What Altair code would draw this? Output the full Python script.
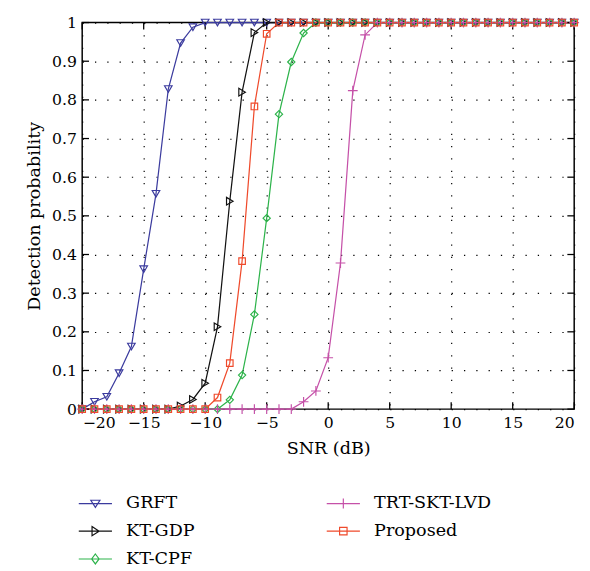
import altair as alt
import pandas as pd

snr = list(range(-20, 21))
names = ["GRFT", "KT-GDP", "KT-CPF", "TRT-SKT-LVD", "Proposed"]
grft = [0, 0.019, 0.032, 0.093, 0.162, 0.362, 0.557, 0.828, 0.947, 0.988] + [1] * 31
kt_gdp = [0] * 8 + [0.008, 0.025, 0.067, 0.213, 0.538, 0.82, 0.974] + [1] * 26
kt_cpf = [0] * 12 + [0.024, 0.088, 0.245, 0.494, 0.763, 0.898, 0.973] + [1] * 22
trt = [0] * 18 + [0.019, 0.047, 0.133, 0.378, 0.824, 0.968] + [1] * 17
proposed = [0] * 11 + [0.03, 0.119, 0.383, 0.783, 0.971] + [1] * 25
x_ticks = [-20, -15, -10, -5, 0, 5, 10, 15, 20]
y_ticks = [0, 0.1, 0.2, 0.3, 0.4, 0.5, 0.6, 0.7, 0.8, 0.9, 1]

values = [grft, kt_gdp, kt_cpf, trt, proposed]
colors = {"GRFT": "#3b3b9e", "KT-GDP": "#111111", "KT-CPF": "#2cb34a",
          "TRT-SKT-LVD": "#c550a8", "Proposed": "#ef4a2b"}
shapes = {"GRFT": "triangle-down", "KT-GDP": "triangle-right", "KT-CPF": "diamond",
          "TRT-SKT-LVD": "M-1,0H1M0,-1V1", "Proposed": "square"}
sizes = {"GRFT": 60, "KT-GDP": 60, "KT-CPF": 55, "TRT-SKT-LVD": 100, "Proposed": 45}
legend_paths = {
    "GRFT": "M-2,0H2M-0.55,-0.4H0.55L0,0.45Z",
    "KT-GDP": "M-2,0H2M-0.4,-0.55L0.45,0L-0.4,0.55Z",
    "KT-CPF": "M-2,0H2M0,-0.6L0.45,0L0,0.6L-0.45,0Z",
    "TRT-SKT-LVD": "M-2,0H2M0,-0.6V0.6",
    "Proposed": "M-2,0H2M-0.45,-0.45H0.45V0.45H-0.45Z",
}
legend_order = names

rows = []
for n, vals in zip(names, values):
    for xv, yv in zip(snr, vals):
        rows.append({"series": n, "x": xv, "y": yv})
df = pd.DataFrame(rows)

W, H = 504, 396
FONT = "DejaVu Serif"

xs = alt.Scale(domain=[-20, 20], nice=False, zero=False)
ys = alt.Scale(domain=[0, 1], nice=False)
x_axis = alt.Axis(
    title="SNR (dB)", values=x_ticks, grid=True, gridColor="#000", gridDash=[1.3, 11.3],
    gridWidth=1.2, ticks=False, domain=False, labelFont=FONT, labelFontSize=16,
    labelColor="#000", labelPadding=6, titleFont=FONT, titleFontSize=18,
    titleFontWeight="normal", titleColor="#000", titlePadding=9)
y_axis = alt.Axis(
    title="Detection probability", values=y_ticks, format=".1~f", grid=True,
    gridColor="#000", gridDash=[1.3, 11.3], gridWidth=1.2, ticks=False, domain=False,
    labelFont=FONT, labelFontSize=16, labelColor="#000", labelPadding=6,
    titleFont=FONT, titleFontSize=18, titleFontWeight="normal", titleColor="#000",
    titlePadding=8)
x_enc = alt.X("x:Q", scale=xs, axis=x_axis)
y_enc = alt.Y("y:Q", scale=ys, axis=y_axis)

color_scale = alt.Scale(domain=legend_order, range=[colors[n] for n in legend_order])
leg = alt.Legend(title=None, orient="none", legendX=4, legendY=483, columns=2,
                 columnPadding=132, rowPadding=9.5, labelFont=FONT, labelFontSize=18,
                 labelColor="#000", labelOffset=22, symbolSize=289,
                 symbolStrokeWidth=1.2, symbolFillColor="transparent")
color_enc = alt.Color("series:N", scale=color_scale, legend=leg)
shape_enc = alt.Shape("series:N", scale=alt.Scale(
    domain=legend_order, range=[legend_paths[n] for n in legend_order]), legend=leg)

lines = alt.Chart(df).mark_line(strokeWidth=1.25).encode(
    x=x_enc, y=y_enc, color=color_enc, order=alt.Order("x:Q"))

point_layers = []
for n in names:
    point_layers.append(
        alt.Chart(df).transform_filter(alt.datum.series == n).mark_point(
            shape=shapes[n], color=colors[n], filled=False, size=sizes[n],
            strokeWidth=1.2, opacity=1).encode(x=x_enc, y=y_enc))

legend_layer = alt.Chart(df).transform_filter("datum.x > 1000").mark_point(
    filled=False, strokeWidth=1.2, opacity=1).encode(
    x=x_enc, y=y_enc, color=color_enc, shape=shape_enc)

xt = pd.DataFrame({"x": x_ticks})
yt = pd.DataFrame({"y": y_ticks})
T = 7
tick_b = alt.Chart(xt).mark_rule(color="#000", strokeWidth=1.3).encode(
    x=x_enc, y=alt.value(H), y2=alt.value(H - T))
tick_t = alt.Chart(xt).mark_rule(color="#000", strokeWidth=1.3).encode(
    x=x_enc, y=alt.value(0), y2=alt.value(T))
tick_l = alt.Chart(yt).mark_rule(color="#000", strokeWidth=1.3).encode(
    y=y_enc, x=alt.value(0), x2=alt.value(T))
tick_r = alt.Chart(yt).mark_rule(color="#000", strokeWidth=1.3).encode(
    y=y_enc, x=alt.value(W), x2=alt.value(W - T))

chart = alt.layer(lines, tick_b, tick_t, tick_l, tick_r, *point_layers, legend_layer).properties(
    width=W, height=H, background="white", padding={"left": 18, "top": 0, "right": 0, "bottom": 0}
).configure(font=FONT).configure_legend(labelFont=FONT, labelFontSize=18).configure_view(
    stroke="#000", strokeWidth=1.5)

chart.save("out.html", embed_options={"renderer": "svg", "actions": False})
